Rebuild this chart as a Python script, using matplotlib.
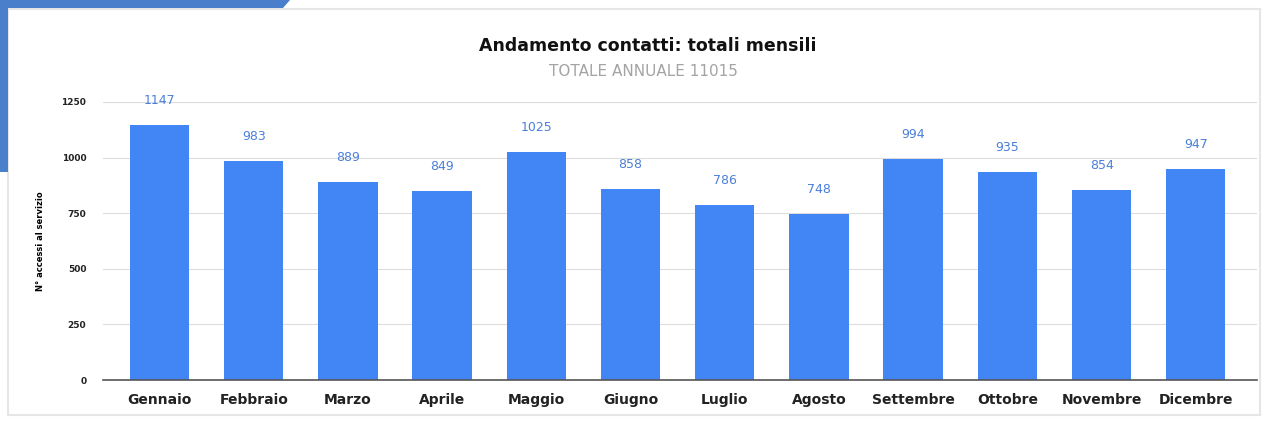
import matplotlib.pyplot as plt
from matplotlib.patches import Polygon, Rectangle

mesi = ["Gennaio", "Febbraio", "Marzo", "Aprile", "Maggio", "Giugno",
        "Luglio", "Agosto", "Settembre", "Ottobre", "Novembre", "Dicembre"]
contatti = [1147, 983, 889, 849, 1025, 858, 786, 748, 994, 935, 854, 947]
yticks = [0, 250, 500, 750, 1000, 1250]

bar_color = "#4285f4"
label_color = "#4a7fd9"

fig = plt.figure(figsize=(12.67, 4.23), dpi=100)

# card border and blue corner decoration
fig.patches.append(Rectangle((8 / 1267, 8 / 423), 1252 / 1267, 406 / 423,
                             transform=fig.transFigure, fill=False,
                             edgecolor="#e6e6e6", lw=1.5))
fig.patches.append(Polygon([(0, 1), (290 / 1267, 1), (283 / 1267, 1 - 8 / 423),
                            (8 / 1267, 1 - 8 / 423), (8 / 1267, 1 - 172 / 423),
                            (0, 1 - 172 / 423)],
                           closed=True, transform=fig.transFigure,
                           facecolor="#4a7fcb", edgecolor="none"))

ax = fig.add_axes([103 / 1267, 1 - 380 / 423, 1154 / 1267, 278 / 423])
x = range(len(mesi))
bars = ax.bar(x, contatti, width=0.63, color=bar_color, zorder=2)

for xi, v in zip(x, contatti):
    ax.annotate(str(v), (xi, v), xytext=(0, 13), textcoords="offset points",
                ha="center", va="bottom", color=label_color, fontsize=9)

ax.set_xlim(-0.6, 11.65)
ax.set_ylim(0, 1250)
ax.set_yticks(yticks)
ax.set_yticklabels([str(t) for t in yticks], fontsize=6.5, fontweight="bold", color="#222222")
ax.set_xticks(list(x))
ax.set_xticklabels(mesi, fontsize=10, fontweight="bold", color="#222222")
ax.tick_params(axis="both", length=0)
ax.tick_params(axis="x", pad=9)
ax.tick_params(axis="y", pad=12)
ax.grid(axis="y", color="#dddddd", lw=0.8, zorder=0)
for s in ["top", "right", "left"]:
    ax.spines[s].set_visible(False)
ax.spines["bottom"].set_color("#555555")
ax.spines["bottom"].set_linewidth(1.2)
ax.spines["bottom"].set_zorder(3)
ax.set_ylabel("N° accessi al servizio", fontsize=6, fontweight="bold", labelpad=12)

fig.text(648 / 1267, 1 - 46 / 423, "Andamento contatti: totali mensili",
         ha="center", va="center", fontsize=12.5, fontweight="bold", color="#111111")
fig.text(643 / 1267, 1 - 72 / 423, "TOTALE ANNUALE 11015",
         ha="center", va="center", fontsize=11, color="#a4a4a4")

fig.savefig("out.png", dpi=100)
